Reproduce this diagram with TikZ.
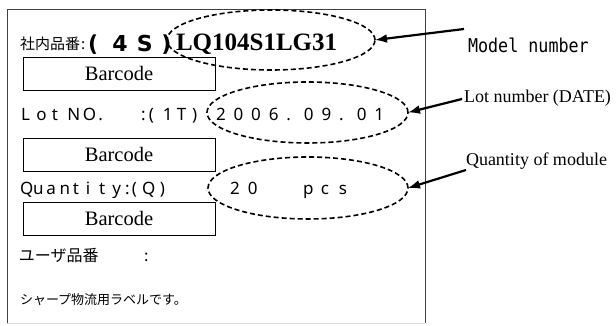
\documentclass[tikz,border=0pt]{standalone}
\usepackage{fontspec}
\setmainfont{Liberation Serif}
\newfontfamily\jpfont{Noto Sans CJK JP}
\newfontfamily\latfont{Noto Sans}
\newfontfamily\bsansfont{DejaVu Sans}
\newfontfamily\monofont{DejaVu Sans Mono}
\usetikzlibrary{arrows.meta,shapes.geometric}
\newcommand\cellseq[2]{\def\mycellw{#1}\cellseqi#2\relax}
\def\cellseqi#1{\ifx#1\relax\else\makebox[\mycellw][l]{#1}\expandafter\cellseqi\fi}
\tikzset{
  txt/.style={inner sep=0pt, outer sep=0pt, anchor=base west},
  jp/.style={font=\jpfont\fontsize{#1}{#1}\selectfont},
  lat/.style={font=\latfont\fontsize{17}{19}\selectfont},
  barbox/.style={draw, line width=0.8pt, minimum width=192pt, minimum height=33pt,
    inner sep=0pt, font=\fontsize{20.5}{22}\selectfont},
  ell/.style={ellipse, draw, line width=1.6pt, dash pattern=on 5pt off 3pt,
    inner sep=0pt, outer sep=0pt},
  arr/.style={line width=2.2pt, -{Latex[length=12pt,width=9pt]}},
  lbl/.style={inner sep=0pt, outer sep=0pt, anchor=base west, font=\fontsize{18}{20}\selectfont}
}
\begin{document}
\begin{tikzpicture}[x=1pt,y=-1pt]
\useasboundingbox (0,0) rectangle (616,326);
% frame
\draw[black!75, line width=0.9pt] (7,323) -- (7,9) -- (425,9) -- (425,323);
\draw[black!15, line width=0.9pt] (7,323) -- (425,323);
% line 1
\node[txt, jp=15] (sn) at (20,50) {社内品番};
\node[txt, jp=15] (sc) at (81,50) {:};
\node[txt, font=\bsansfont\bfseries\fontsize{22}{26}\selectfont] (ps) at (88,52) {\cellseq{24.5pt}{(4S)}};
\node[txt, font=\bfseries\fontsize{25}{27}\selectfont] (mn) at (176,51) {LQ104S1LG31};
\node[barbox] (b1) at (119,73.5) {Barcode};
% line 2
\node[txt, lat] (lot) at (21,121) {\cellseq{15.5pt}{LotNO.}};
\node[txt, lat] (lc) at (141,121) {\makebox[8pt][l]{:}\makebox[14pt][l]{(}\makebox[14pt][l]{1}\makebox[15pt][l]{T})};
\node[txt, lat] (ld) at (216,121) {\cellseq{17.6pt}{2006.09.01}};
\node[barbox] (b2) at (119,154.5) {Barcode};
% line 3
\node[txt, lat] (qt) at (20,194) {\cellseq{13.2pt}{Quantity}};
\node[txt, lat] (qc) at (125,194) {\makebox[7pt][l]{:}\makebox[10pt][l]{(}\makebox[18pt][l]{Q})};
\node[txt, lat] (qv) at (230,194) {\cellseq{18pt}{20}};
\node[txt, lat] (qp) at (303,194) {\cellseq{18pt}{pcs}};
\node[barbox] (b3) at (119,218.5) {Barcode};
% user part number
\node[txt, jp=16] (up) at (19,261) {ユーザ品番};
\node[txt, jp=16] (uc) at (144,261) {:};
\node[txt, jp=13] (note) at (20,304) {シャープ物流用ラベルです。};
% ellipses
\node[ell, minimum width=208pt, minimum height=60pt] (e1) at (271,40) {};
\node[ell, minimum width=201pt, minimum height=61pt] (e2) at (307.5,112.5) {};
\node[ell, minimum width=200pt, minimum height=62pt] (e3) at (308,188) {};
% labels
\node[txt, font=\monofont\fontsize{19}{21}\selectfont] (l1) at (468,53) {\scalebox{0.88}[1]{Model number}};
\node[lbl] (l2) at (464,103) {Lot number (DATE)};
\node[lbl] (l3) at (466,166) {Quantity of module};
% arrows
\coordinate (a1) at (464,29);
\coordinate (a2) at (462,99);
\coordinate (a3) at (466,170);
\draw[arr] (a1) -- (e1.east);
\draw[arr] (a2) -- (e2.east);
\draw[arr] (a3) -- (e3.east);
\end{tikzpicture}
\end{document}
